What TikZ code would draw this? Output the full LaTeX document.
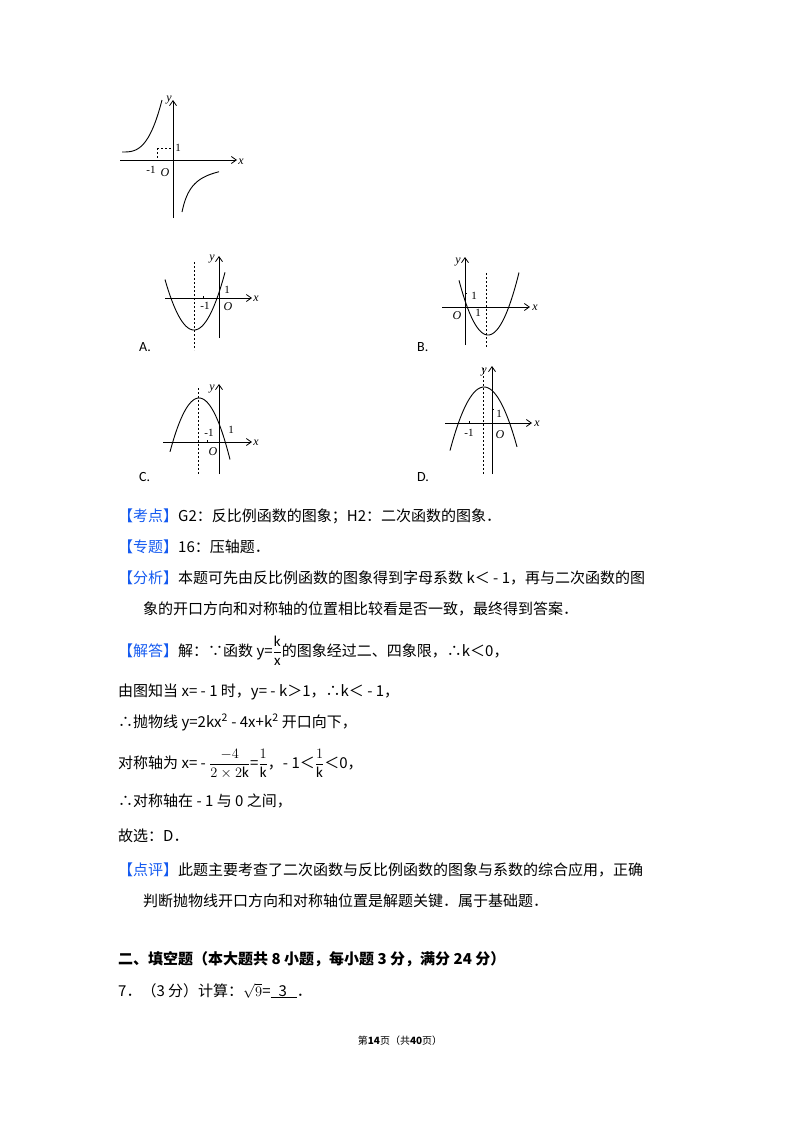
\documentclass[tikz,border=0pt]{standalone}
\usepackage{fontspec}
\setmainfont{Carlito}
\newfontfamily\cjk{Noto Sans CJK SC}
\newfontfamily\gser{Liberation Serif}
\definecolor{tagblue}{RGB}{20,90,240}
\usetikzlibrary{arrows.meta}
\tikzset{
 txt/.style={anchor=base west,inner sep=0pt,font=\fontsize{15}{18}\selectfont\cjk},
 lab/.style={inner sep=0pt,font=\fontsize{11}{12}\selectfont\gser},
 ilab/.style={inner sep=0pt,font=\fontsize{12}{12}\selectfont\gser\itshape},
 ax/.style={line width=0.8pt,-{Straight Barb[length=5pt,width=7pt]}},
 cv/.style={line width=0.9pt},
 dsh/.style={line width=0.8pt,dash pattern=on 2pt off 2pt},
 opt/.style={inner sep=0pt,font=\fontsize{14}{14}\selectfont}
}
\newcommand{\myfr}[2]{{\displaystyle\frac{#1}{#2}}}
\begin{document}
\begin{tikzpicture}[x=1pt,y=-1pt]
\useasboundingbox (0,0) rectangle (800,1132);
% ---- top graph
\draw[ax] (120,160) -- (237,160);
\draw[ax] (173,218) -- (173,100);
\draw[cv,domain=122:162,samples=80] plot (\x,{152-52*((\x-122)/40)^3});
\draw[cv,domain=182:219,samples=60] plot (\x,{160+562/(\x-171.2)});
\draw[dsh] (157,148) -- (157,160);
\draw[dsh] (157,148) -- (173,148);
\node[lab] (t1) at (178,148) {1};
\node[lab] (tm1) at (151,170) {-1};
\node[ilab] (tO) at (165,173) {O};
\node[ilab] (ty) at (169,100) {y};
\node[ilab] (tx) at (241,162) {x};
% ---- A
\draw[ax] (165,298) -- (252,298);
\draw[ax] (219,338) -- (219,256);
\draw[dsh] (194,262) -- (194,350);
\draw[cv,domain=-29:31,samples=60] plot ({194+\x},{330-0.06*\x*\x});
\draw (203,296)--(203,298);
\node[lab] (am1) at (205,306) {-1};
\node[lab] (a1) at (227,290) {1};
\node[ilab] (aO) at (228,307) {O};
\node[ilab] (ay) at (212,259) {y};
\node[ilab] (ax) at (256,299) {x};
\node[opt,anchor=west] (A) at (139,347) {A.};
% ---- B
\draw[ax] (442,307) -- (530,307);
\draw[ax] (465,345) -- (465,257);
\draw[dsh] (486,273) -- (486,348);
\draw[cv,domain=-29:31,samples=60] plot ({488+\x},{335-0.065*\x*\x});
\draw (465,293)--(467,293);
\node[lab] (b1a) at (474,296) {1};
\node[lab] (b1b) at (478,313) {1};
\node[ilab] (bO) at (457,316) {O};
\node[ilab] (by) at (458,262) {y};
\node[ilab] (bx) at (535,308) {x};
\node[opt,anchor=west] (B) at (417,347) {B.};
% ---- C
\draw[ax] (163,442) -- (252,442);
\draw[ax] (219,474) -- (219,384);
\draw[dsh] (198,388) -- (198,474);
\draw[cv,domain=-29:31,samples=60] plot ({199+\x},{398+0.064*\x*\x});
\draw (207,440)--(207,442);
\node[lab] (cm1) at (209,433) {-1};
\node[lab] (c1) at (231,430) {1};
\node[ilab] (cO) at (213,452) {O};
\node[ilab] (cy) at (212,389) {y};
\node[ilab] (cx) at (256,443) {x};
\node[opt,anchor=west] (C) at (139,477) {C.};
% ---- D
\draw[ax] (445,423) -- (532,423);
\draw[ax] (492,474) -- (492,366);
\draw[dsh] (483,368) -- (483,474);
\draw[cv,domain=-34:33,samples=60] plot ({484+\x},{387+0.055*\x*\x});
\draw (469,421)--(469,423);
\draw (492,409)--(494,409);
\node[lab] (dm1) at (469,433) {-1};
\node[lab] (d1) at (499,414) {1};
\node[ilab] (dO) at (500,435) {O};
\node[ilab] (dy) at (484,372) {y};
\node[ilab] (dx) at (537,424) {x};
\node[opt,anchor=west] (D) at (417,477) {D.};
% ---- text
\node[txt] (l1) at (118,521) {\textcolor{tagblue}{【考点】}G2：反比例函数的图象；H2：二次函数的图象．};
\node[txt] (l2) at (118,552) {\textcolor{tagblue}{【专题】}16：压轴题．};
\node[txt] (l3) at (118,583) {\textcolor{tagblue}{【分析】}本题可先由反比例函数的图象得到字母系数 k＜ - 1，再与二次函数的图};
\node[txt] (l4) at (143,614) {象的开口方向和对称轴的位置相比较看是否一致，最终得到答案．};
\node[txt] (l5) at (118,656) {\textcolor{tagblue}{【解答】}解：∵函数 y=$\myfr{\mathrm{k}}{\mathrm{x}}$的图象经过二、四象限，∴k＜0，};
\node[txt] (l6) at (118,696) {由图知当 x= - 1 时，y= - k＞1，∴k＜ - 1，};
\node[txt] (l7) at (118,727) {∴抛物线 y=2kx\textsuperscript{2} - 4x+k\textsuperscript{2} 开口向下，};
\node[txt] (l8) at (118,768) {对称轴为 x= - $\myfr{-4}{2\times 2\mathrm{k}}$=$\myfr{1}{\mathrm{k}}$，- 1＜$\myfr{1}{\mathrm{k}}$＜0，};
\node[txt] (l9) at (118,806) {∴对称轴在 - 1 与 0 之间，};
\node[txt] (l10) at (118,841) {故选：D．};
\node[txt] (l11) at (118,875) {\textcolor{tagblue}{【点评】}此题主要考查了二次函数与反比例函数的图象与系数的综合应用，正确};
\node[txt] (l12) at (143,906) {判断抛物线开口方向和对称轴位置是解题关键．属于基础题．};
\node[txt,font=\fontsize{15}{18}\selectfont\cjk\bfseries] (l13) at (118,964) {二、填空题（本大题共 8 小题，每小题 3 分，满分 24 分）};
\node[txt] (l14) at (118,996) {7．（3 分）计算：$\sqrt{9}$=\underline{\hspace{8pt}3\hspace{10pt}}．};
\node[inner sep=0pt,font=\fontsize{10}{12}\selectfont\cjk] (foot) at (400,1041) {第\textbf{14}页（共\textbf{40}页）};
\end{tikzpicture}
\end{document}
